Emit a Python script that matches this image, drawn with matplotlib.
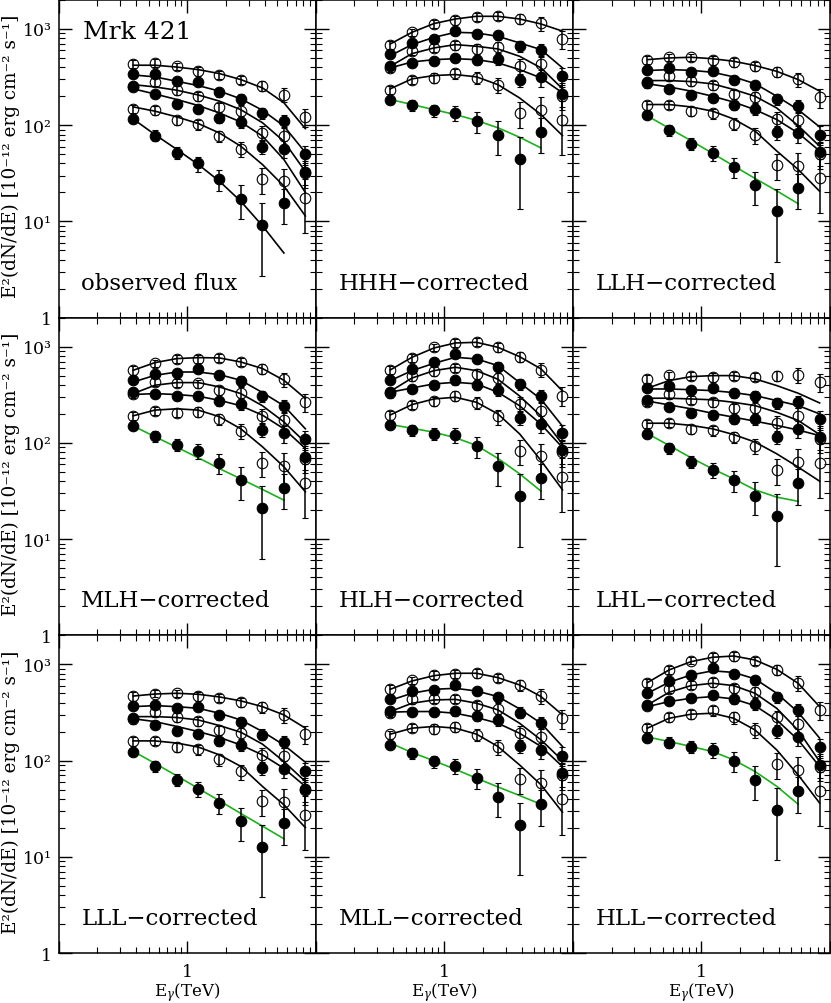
import numpy as np
import matplotlib.pyplot as plt
from matplotlib.ticker import FixedLocator, LogLocator, FuncFormatter, NullFormatter

plt.rcParams['font.family'] = ['DejaVu Serif']
plt.rcParams['mathtext.fontset'] = 'dejavuserif'

# photon energies of the spectral bins (TeV)
energy = [0.38, 0.56, 0.83, 1.22, 1.78, 2.61, 3.85, 5.65, 8.3]

# observed E^2 dN/dE for the six flux states, highest first (open/filled alternate)
flux_a = [436, 444, 410, 363, 333, 298, 258, 208, 122]
flux_b = [344, 341, 288, 280, 220, 188, 134, 110, 50]
flux_c = [250, 284, 231, 200, 155, 142, 83, 78, 31.5]
flux_d = [258, 211, 168, 148, 119, 107, 60, 57, 33]
flux_e = [148, 143, 113, 102, 77, 57, 27.3, 26.2, 17.6]
flux_f = [116, 78, 52, 40, 27.3, 17.3, 9.1, 15.6]

# relative errors
err_a = [0.10, 0.09, 0.09, 0.10, 0.10, 0.10, 0.12, 0.17, 0.22]
err_b = [0.08, 0.08, 0.08, 0.09, 0.10, 0.11, 0.13, 0.15, 0.22]
err_c = [0.10, 0.10, 0.10, 0.10, 0.11, 0.13, 0.18, 0.22, 0.30]
err_d = [0.08, 0.08, 0.09, 0.10, 0.11, 0.13, 0.16, 0.20, 0.28]
err_e = [0.10, 0.10, 0.11, 0.12, 0.14, 0.18, 0.30, 0.35, 0.57]
err_f = [0.08, 0.13, 0.14, 0.18, 0.24, 0.38, 0.70, 0.40]

# absorption correction factors exp(tau) per EBL model
corr_obs = [1, 1, 1, 1, 1, 1, 1, 1, 1]
corr_hhh = [1.58, 2.08, 2.75, 3.38, 4.03, 4.58, 4.92, 5.50, 6.45]
corr_llh = [1.09, 1.14, 1.24, 1.30, 1.35, 1.38, 1.40, 1.44, 1.60]
corr_mlh = [1.30, 1.51, 1.83, 2.07, 2.29, 2.35, 2.29, 2.20, 2.18]
corr_hlh = [1.31, 1.73, 2.40, 3.03, 3.38, 3.30, 3.05, 2.77, 2.54]
corr_lhl = [1.07, 1.13, 1.22, 1.32, 1.49, 1.64, 1.92, 2.44, 3.52]
corr_lll = [1.07, 1.12, 1.22, 1.28, 1.34, 1.35, 1.39, 1.43, 1.55]
corr_mll = [1.26, 1.53, 1.89, 2.20, 2.42, 2.44, 2.35, 2.25, 2.25]
corr_hll = [1.48, 1.97, 2.67, 3.25, 3.64, 3.64, 3.38, 3.08, 2.75]

# fitted spectra (one row per flux state)
fit_obs = [[420, 420, 402, 378, 344, 298, 244, 171, 92],
           [333, 318, 286, 258, 226, 188, 143, 98, 52],
           [264, 250, 231, 206, 178, 145, 106, 68, 33],
           [239, 211, 185, 160, 134, 108, 77, 44, 20],
           [155, 140, 122, 104, 83, 60.5, 39, 23.3, 11.4],
           [116, 80, 56, 39, 26.2, 16.2, 9.0, 4.7]]
fit_hhh = [[699, 923, 1138, 1270, 1354, 1354, 1270, 1127, 950],
           [528, 688, 818, 923, 909, 839, 716, 610, 394],
           [410, 554, 635, 688, 661, 620, 520, 394, 239],
           [394, 454, 480, 491, 480, 444, 378, 310, 217],
           [239, 303, 328, 336, 318, 264, 192, 129, 78],
           [185, 164, 145, 129, 112, 94, 75, 58]]
fit_llh = [[480, 500, 508, 491, 462, 417, 363, 298, 226],
           [370, 378, 372, 355, 318, 270, 200, 145, 96],
           [291, 291, 284, 269, 235, 200, 151, 99, 60.5],
           [269, 250, 226, 200, 174, 145, 114.5, 83, 54],
           [164, 164, 155, 140, 116, 87, 54, 34.7, 20.6],
           [125, 93, 69, 51, 37.8, 28, 20.8, 15.3]]
fit_mlh = [[568, 682, 751, 769, 763, 693, 592, 447, 289],
           [429, 503, 545, 545, 512, 447, 333, 243, 140],
           [325, 397, 423, 423, 381, 325, 243, 165, 101],
           [318, 325, 318, 305, 277, 243, 194, 140, 87.5],
           [191, 219, 226, 219, 187, 140, 91, 56.4, 31],
           [150, 116, 90, 70, 54, 42.3, 32.8, 25.4]]
fit_hlh = [[573, 775, 968, 1092, 1109, 984, 787, 587, 346],
           [444, 563, 671, 775, 745, 635, 423, 284, 149],
           [343, 472, 563, 610, 563, 458, 307, 190, 96.8],
           [336, 372, 410, 426, 410, 336, 243, 156, 89.4],
           [195, 250, 286, 298, 264, 200, 124, 65.5, 32.5],
           [155, 142, 129, 113, 94, 69, 47.7, 31.5]]
fit_lhl = [[370, 444, 488, 500, 500, 462, 394, 328, 260],
           [363, 363, 357, 349, 333, 310, 275, 244, 200],
           [291, 291, 286, 280, 264, 244, 208, 171, 122],
           [272, 248, 226, 203, 185, 168, 152, 136, 119],
           [160, 160, 152, 140, 122, 102, 77, 56, 40],
           [125, 94, 70, 53.7, 42.3, 32.5, 27.3, 24.7]]
fit_lll = [[468, 491, 500, 488, 458, 417, 363, 298, 217],
           [363, 372, 363, 349, 310, 264, 200, 145, 96],
           [286, 286, 280, 264, 231, 197, 148, 97.6, 60.5],
           [272, 254, 226, 200, 174, 145, 114.5, 83, 53.8],
           [160, 160, 152, 138, 114.5, 87, 53.8, 34.7, 20.1],
           [125, 93.5, 69.3, 51.3, 38.2, 28.2, 20.8, 15.4]]
fit_mll = [[550, 671, 762, 807, 807, 727, 610, 462, 298],
           [423, 500, 550, 563, 528, 462, 344, 244, 140],
           [323, 394, 426, 432, 394, 336, 244, 164, 100],
           [318, 323, 323, 310, 280, 244, 192, 140, 86.6],
           [188, 217, 226, 217, 188, 140, 90, 56, 29],
           [152, 121, 99.5, 81, 65.5, 53.2, 43.3, 35.1]]
fit_hll = [[645, 874, 1066, 1183, 1220, 1109, 887, 635, 363],
           [500, 651, 775, 855, 824, 705, 500, 318, 171],
           [378, 512, 601, 635, 601, 500, 349, 206, 97.6],
           [363, 410, 444, 462, 437, 372, 264, 164, 86.6],
           [217, 275, 303, 310, 275, 208, 129, 71, 36.2],
           [176, 157.5, 140, 124, 101.7, 77, 54, 35.2]]

panel_names = ['observed flux', 'HHH\u2212corrected', 'LLH\u2212corrected',
               'MLH\u2212corrected', 'HLH\u2212corrected', 'LHL\u2212corrected',
               'LLL\u2212corrected', 'MLL\u2212corrected', 'HLL\u2212corrected']
corrections = [corr_obs, corr_hhh, corr_llh, corr_mlh, corr_hlh,
               corr_lhl, corr_lll, corr_mll, corr_hll]
fits = [fit_obs, fit_hhh, fit_llh, fit_mlh, fit_hlh,
        fit_lhl, fit_lll, fit_mll, fit_hll]

fluxes = [flux_a, flux_b, flux_c, flux_d, flux_e, flux_f]
errors = [err_a, err_b, err_c, err_d, err_e, err_f]
hollow = [True, False, True, False, True, False]

ytick_text = {1: '1', 10: '10\u00b9', 100: '10\u00b2', 1000: '10\u00b3'}

fig, axes = plt.subplots(3, 3, figsize=(8.31, 10.04), dpi=100,
                         sharex=True, sharey=True)
fig.subplots_adjust(left=0.0706, right=0.9988, top=0.999, bottom=0.0498,
                    wspace=0, hspace=0)

green = '#1fae1f'

for k, ax in enumerate(axes.flat):
    corr = np.array(corrections[k])
    for j in range(6):
        n = len(fluxes[j])
        x = np.array(energy[:n])
        y = np.array(fluxes[j]) * corr[:n]
        yerr = y * np.array(errors[j])
        fit = fits[k][j]
        col = green if (j == 5 and k > 0) else 'k'
        ax.plot(energy[:len(fit)], fit, color=col, lw=1.2, zorder=2)
        ax.errorbar(x, y, yerr=yerr, fmt='o', ms=7.6,
                    mfc='none' if hollow[j] else 'k', mec='k', mew=0.8,
                    ecolor='k', elinewidth=1.1, capsize=2, capthick=1.1,
                    zorder=3)

    ax.set_xscale('log')
    ax.set_yscale('log')
    ax.set_xlim(0.1, 10)
    ax.set_ylim(1, 2000)
    ax.xaxis.set_major_locator(FixedLocator([0.1, 1, 10]))
    ax.xaxis.set_minor_locator(LogLocator(base=10, subs=np.arange(2, 10)))
    ax.xaxis.set_major_formatter(FuncFormatter(lambda v, p: '1' if abs(v - 1) < 1e-6 else ''))
    ax.xaxis.set_minor_formatter(NullFormatter())
    ax.yaxis.set_major_locator(FixedLocator([1, 10, 100, 1000]))
    ax.yaxis.set_minor_locator(LogLocator(base=10, subs=np.arange(2, 10)))
    ax.yaxis.set_major_formatter(FuncFormatter(lambda v, p: ytick_text.get(int(round(v)), '')))
    ax.yaxis.set_minor_formatter(NullFormatter())
    ax.tick_params(which='both', direction='in', top=True, right=True,
                   labelsize=12.5)
    ax.tick_params(which='major', length=9, width=1)
    ax.tick_params(which='minor', length=4.5, width=0.8)
    ax.tick_params(axis='x', pad=7)
    ax.tick_params(axis='y', pad=5)
    for s in ax.spines.values():
        s.set_linewidth(1.1)

    ax.text(0.088, 0.11, panel_names[k], transform=ax.transAxes,
            fontsize=16.5, va='center', ha='left')

    if k % 3 == 0:
        ax.set_ylabel('E\u00b2(dN/dE) [10\u207b\u00b9\u00b2 erg cm\u207b\u00b2 s\u207b\u00b9]',
                      fontsize=13.2)
        ax.yaxis.set_label_coords(-0.15, 0.51)
    if k >= 6:
        ax.set_xlabel(r'E$_\gamma$(TeV)', fontsize=12, labelpad=0)

axes[0, 0].text(0.093, 0.9, 'Mrk 421', transform=axes[0, 0].transAxes,
                fontsize=18, va='center', ha='left')

fig.savefig('out.png', dpi=100)
